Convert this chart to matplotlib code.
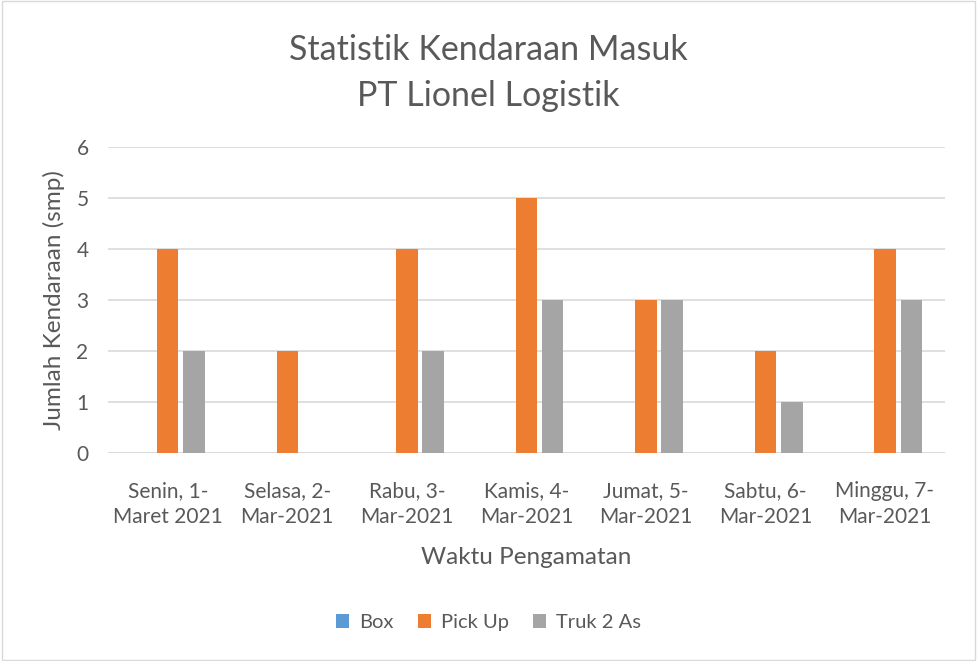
import numpy as np
import matplotlib.pyplot as plt

plt.rcParams['font.family'] = ['Lato', 'DejaVu Sans']

categories = ['Senin, 1-\nMaret 2021', 'Selasa, 2-\nMar-2021', 'Rabu, 3-\nMar-2021',
              'Kamis, 4-\nMar-2021', 'Jumat, 5-\nMar-2021', 'Sabtu, 6-\nMar-2021',
              'Minggu, 7-\nMar-2021']
box = [0, 0, 0, 0, 0, 0, 0]
pick_up = [4, 2, 4, 5, 3, 2, 4]
truk = [2, 0, 2, 3, 3, 1, 3]

series = [('Box', box, '#5b9bd5'), ('Pick Up', pick_up, '#ed7d31'), ('Truk 2 As', truk, '#a5a5a5')]
txt = '#595959'

fig = plt.figure(figsize=(9.77, 6.61), dpi=100)
ax = fig.add_axes([0.1105, 0.3147, 0.8565, 0.4629])

x = np.arange(len(categories))
w = 0.18
for i, (name, vals, col) in enumerate(series):
    ax.bar(x + (i - 1) * 0.22, vals, w, color=col, label=name, zorder=3)

ax.set_xlim(-0.5, len(categories) - 0.5)
ax.set_ylim(0, 6)
ax.set_yticks(range(0, 7))
ax.grid(axis='y', color='#d9d9d9', linewidth=1.2, zorder=0)
for s in ax.spines.values():
    s.set_visible(False)
ax.axhline(0, color='#d9d9d9', linewidth=1.2, zorder=2)
ax.set_xticks(x)
ax.set_xticklabels(categories, color=txt, fontsize=15, linespacing=1.4)
ax.tick_params(axis='both', length=0, colors=txt, labelsize=15)
ax.tick_params(axis='x', pad=20)
ax.tick_params(axis='y', pad=14)
ax.set_xlabel('Waktu Pengamatan', color=txt, fontsize=17.5, labelpad=14)
ax.set_ylabel('Jumlah Kendaraan (smp)', color=txt, fontsize=17.5, labelpad=8)

fig.text(0.5, 0.925, 'Statistik Kendaraan Masuk', ha='center', va='center', fontsize=24.5, color=txt)
fig.text(0.5, 0.855, 'PT Lionel Logistik', ha='center', va='center', fontsize=24.5, color=txt)

fig.legend(loc='center', bbox_to_anchor=(0.5, 0.058), ncol=3, frameon=False,
           fontsize=14.5, labelcolor=txt, handlelength=0.65, handleheight=0.65,
           columnspacing=1.2, handletextpad=0.5)

fig.patches.append(plt.Rectangle((0.002, 0.002), 0.996, 0.996, transform=fig.transFigure,
                                 fill=False, edgecolor='#d9d9d9', linewidth=1))

fig.savefig('out.png', dpi=100)
